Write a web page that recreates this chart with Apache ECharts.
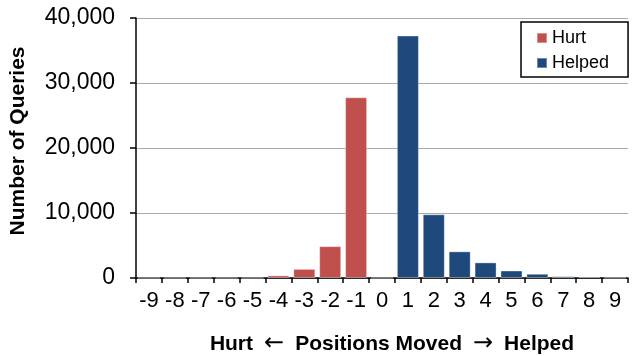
<!DOCTYPE html>
<html><head><meta charset="utf-8">
<script src="https://cdn.jsdelivr.net/npm/echarts@6/dist/echarts.min.js"></script>
<style>html,body{margin:0;padding:0;background:#fff}#c{width:636px;height:356px}</style>
</head><body><div id="c"></div>
<script>
const categories = ['-9','-8','-7','-6','-5','-4','-3','-2','-1','0','1','2','3','4','5','6','7','8','9'];
const hurt = [0,0,0,0,0,400,1400,4900,27800,null,null,null,null,null,null,null,null,null,null];
const helped = [null,null,null,null,null,null,null,null,null,0,37300,9800,4100,2400,1150,650,270,200,50];
const yTicks = [0,10000,20000,30000,40000];

const chart = echarts.init(document.getElementById('c'));
const font = 'Liberation Sans, Arial, sans-serif';
chart.setOption({
  animation:false,
  textStyle:{fontFamily:font},
  grid:{left:136,top:18,right:8,bottom:78,containLabel:false,outerBoundsMode:'none'},
  legend:{
    orient:'vertical', left:521, top:22,
    data:['Hurt','Helped'],
    icon:'rect', itemWidth:10, itemHeight:10, itemGap:7,
    borderColor:'#000', borderWidth:1.5, padding:[7,19,5,15],
    textStyle:{fontFamily:font,fontSize:18,color:'#000'},
    backgroundColor:'#fff'
  },
  xAxis:{
    type:'category', data:categories,
    name:'{t|Hurt}{a|\u2190}{t|Positions Moved}{a|\u2192}{t|Helped}', nameLocation:'middle', nameGap:54,
    nameTextStyle:{fontFamily:font,fontSize:21,fontWeight:'bold',color:'#000',padding:[0,0,0,20],
      rich:{t:{fontFamily:font,fontSize:21,fontWeight:'bold',color:'#000'},
            a:{fontFamily:'DejaVu Sans',fontSize:24,fontWeight:'normal',color:'#000',padding:[0,11,0,11]}}},
    axisLine:{lineStyle:{color:'#000',width:1.5}},
    axisTick:{show:true,length:5,lineStyle:{color:'#000',width:1.5},alignWithLabel:false},
    axisLabel:{fontFamily:font,fontSize:22,color:'#000',margin:12,interval:0}
  },
  yAxis:{
    type:'value', min:0, max:40000, interval:10000,
    name:'Number of Queries', nameLocation:'middle', nameGap:107, nameRotate:90,
    nameTextStyle:{fontFamily:font,fontSize:21,fontWeight:'bold',color:'#000',padding:[0,0,0,14]},
    axisLine:{show:true,lineStyle:{color:'#000',width:1.5}},
    axisTick:{show:true,length:6,lineStyle:{color:'#000',width:1.5}},
    axisLabel:{fontFamily:font,fontSize:23,color:'#000',margin:21,
      formatter:v=>yTicks.includes(v)?v.toLocaleString('en-US'):''},
    splitLine:{show:true,lineStyle:{color:'#aaa',width:1}}
  },
  series:[
    {name:'Hurt',type:'bar',stack:'s',data:hurt,barCategoryGap:'15%',
     itemStyle:{color:'#C0504D',borderColor:'rgba(255,255,255,0.35)',borderWidth:1}},
    {name:'Helped',type:'bar',stack:'s',data:helped,barCategoryGap:'15%',
     itemStyle:{color:'#1F497D',borderColor:'rgba(255,255,255,0.35)',borderWidth:1}}
  ]
});
</script></body></html>
